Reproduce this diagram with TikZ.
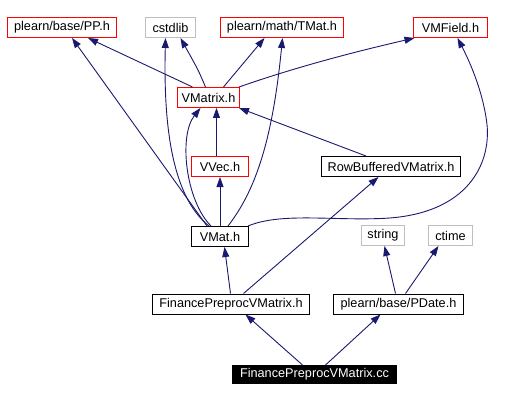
\documentclass[tikz,border=0pt]{standalone}
\usepackage{fontspec}
\setmainfont{Liberation Sans}
\usetikzlibrary{arrows.meta}
\definecolor{edgeblue}{RGB}{25,25,112}
\definecolor{redframe}{RGB}{255,0,0}
\definecolor{grayframe}{RGB}{191,191,191}
\tikzset{
	file/.style={rectangle, inner sep=0pt, minimum height=20pt, line width=1pt, font=\fontsize{12.7}{14}\selectfont},
	redfile/.style={file, draw=redframe},
	grayfile/.style={file, draw=grayframe},
	blackfile/.style={file, draw=black},
	mainfile/.style={file, draw=black, fill=black, text=white},
	dep/.style={draw=edgeblue, line width=0.9pt, -{Triangle[length=10pt,width=7pt]}}
}

\begin{document}
\begin{tikzpicture}[x=1pt, y=-1pt]
			%%%%% START %%%%%
			\useasboundingbox (-0.5, -0.5) rectangle (515.5, 400.5);
			
			\node[redfile, minimum width=109pt] (pp) at (61.5, 27) {plearn/base/PP.h};
			\node[grayfile, minimum width=50pt] (cstdlib) at (170, 27) {cstdlib};
			\node[redfile, minimum width=123pt] (tmat) at (281.5, 27) {plearn/math/TMat.h};
			\node[redfile, minimum width=74pt] (vmfield) at (450, 27) {VMField.h};
			
			\node[redfile, minimum width=62pt] (vmatrix) at (208, 97) {VMatrix.h};
			
			\node[redfile, minimum width=57pt] (vvec) at (219.5, 166) {VVec.h};
			\node[blackfile, minimum width=139pt] (rowbuf) at (390.5, 166) {RowBufferedVMatrix.h};
			
			\node[blackfile, minimum width=57pt] (vmat) at (219.5, 236) {VMat.h};
			\node[grayfile, minimum width=43pt] (string) at (382.5, 235) {string};
			\node[grayfile, minimum width=44pt] (ctime) at (450, 235) {ctime};
			
			\node[blackfile, minimum width=157pt] (fin) at (230.5, 303.5) {FinancePreprocVMatrix.h};
			\node[blackfile, minimum width=130pt] (pdate) at (398, 303.5) {plearn/base/PDate.h};
			
			\node[mainfile, minimum width=164pt, minimum height=18pt] (cc) at (314, 374) {FinancePreprocVMatrix.cc};
			
			% VMatrix.h
			\draw[dep] ([xshift=-16pt]vmatrix.north) -- ([xshift=26pt]pp.south);
			\draw[dep] ([xshift=-3pt]vmatrix.north) .. controls (198, 70) .. ([xshift=10pt]cstdlib.south);
			\draw[dep] ([xshift=15pt]vmatrix.north) -- ([xshift=-17.5pt]tmat.south);
			\draw[dep] ([xshift=-1pt]vmatrix.north east) .. controls (300, 65) and (360, 50) .. ([xshift=-36pt]vmfield.south);
			
			% VVec.h and RowBufferedVMatrix.h
			\draw[dep] ([xshift=-3.5pt]vvec.north) -- ([xshift=8pt]vmatrix.south);
			\draw[dep] ([xshift=-25pt]rowbuf.north) -- ([xshift=-1pt]vmatrix.south east);
			
			% VMat.h
			\draw[dep] (vmat.north) -- (vvec.south);
			\draw[dep] ([xshift=-9pt]vmat.north) .. controls (185, 200) and (178, 135) .. ([xshift=-8pt]vmatrix.south);
			\draw[dep] ([xshift=-13pt]vmat.north) -- ([xshift=10pt]pp.south);
			\draw[dep] ([xshift=-11pt]vmat.north) .. controls (170, 195) and (163, 120) .. ([xshift=-5pt]cstdlib.south);
			\draw[dep] ([xshift=8pt]vmat.north) .. controls (255, 190) and (272, 140) .. ([xshift=0.5pt]tmat.south);
			\draw[dep] ([xshift=-1pt]vmat.north east) .. controls (280, 212) and (330, 220) .. (380, 218)
				.. controls (470, 215) and (492, 160) .. (486, 120)
				.. controls (481, 85) and (466, 55) .. ([xshift=7pt]vmfield.south);
			
			% FinancePreprocVMatrix.h and plearn/base/PDate.h
			\draw[dep] ([xshift=-0.5pt]fin.north) -- ([xshift=4.5pt]vmat.south);
			\draw[dep] ([xshift=12.5pt]fin.north) -- ([xshift=-12.5pt]rowbuf.south);
			\draw[dep] ([xshift=-3pt]pdate.north) -- ([xshift=1.5pt]string.south);
			\draw[dep] ([xshift=7pt]pdate.north) -- ([xshift=-12pt]ctime.south);
			
			% FinancePreprocVMatrix.cc
			\draw[dep] ([xshift=-12pt]cc.north) -- ([xshift=14.5pt]fin.south);
			\draw[dep] ([xshift=11pt]cc.north) -- ([xshift=-18pt]pdate.south);
			%%%%% END %%%%%
\end{tikzpicture}
\end{document}
